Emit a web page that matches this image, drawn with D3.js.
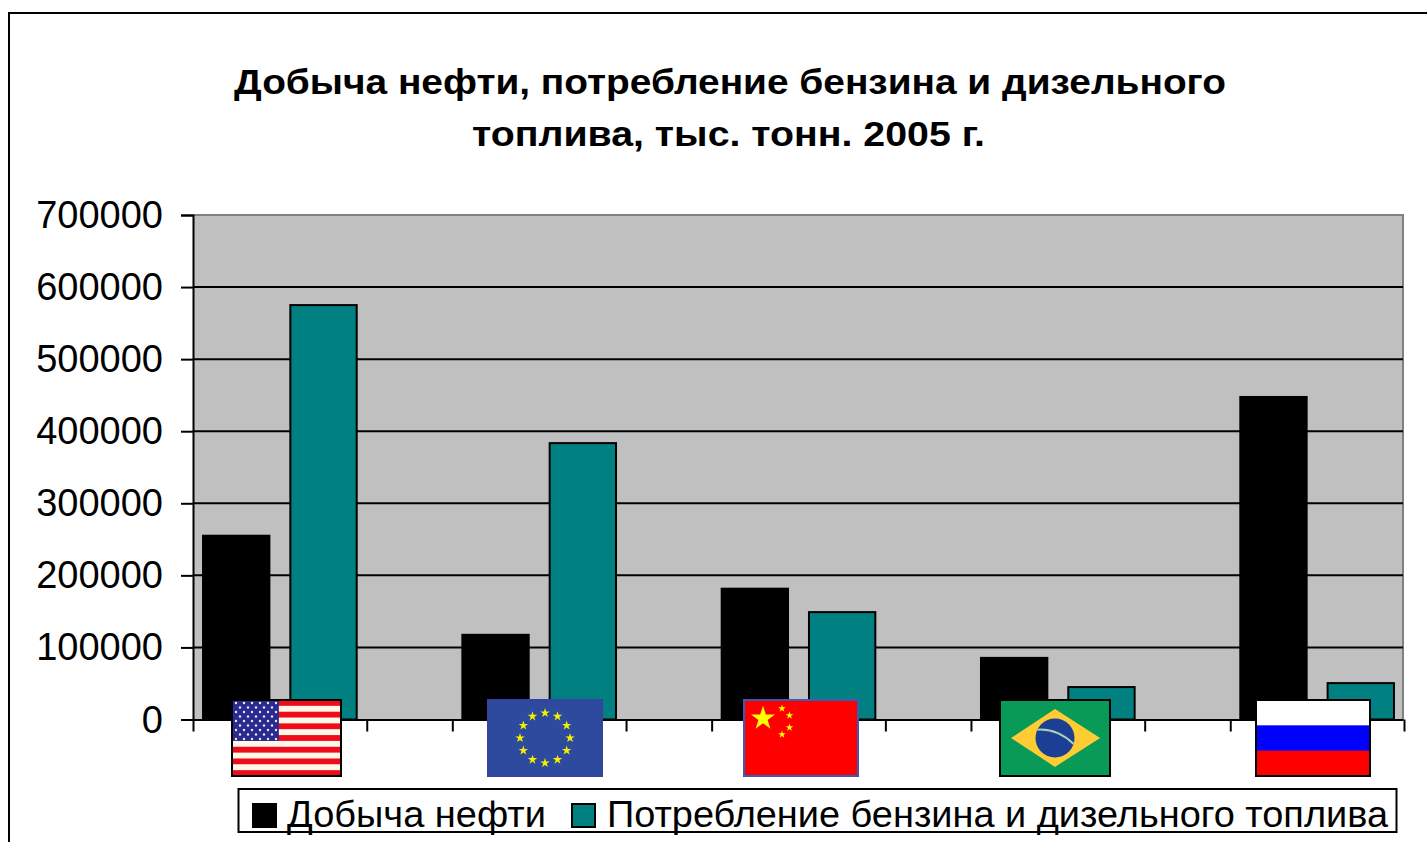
<!DOCTYPE html>
<html>
<head>
<meta charset="utf-8">
<script src="https://cdn.jsdelivr.net/npm/d3@7"></script>
<style>
  html, body { margin: 0; padding: 0; background: #fff; overflow: hidden; }
  text { font-family: "Liberation Sans", Arial, sans-serif; fill: #000; }
</style>
</head>
<body>
<svg class="main"></svg>
<script>
const titleLines = ["Добыча нефти, потребление бензина и дизельного", "топлива, тыс. тонн. 2005 г."];
const countries = ["США", "ЕС", "Китай", "Бразилия", "Россия"];
const seriesNames = ["Добыча нефти", "Потребление бензина и дизельного топлива"];
const oilOutput = [255000, 117500, 181500, 85500, 447500];
const fuelUse = [575000, 383500, 149000, 45000, 50500];
const yTicks = [0, 100000, 200000, 300000, 400000, 500000, 600000, 700000];

const seriesValues = [oilOutput, fuelUse];
const seriesColors = ["#000000", "#008080"];

const width = 1427;
const height = 842;
const svg = d3.select("svg.main").attr("width", width).attr("height", height);

// outer frame, only top and left are inside the picture
svg.append("path")
  .attr("d", `M9,${height}V13H${width}`)
  .style("fill", "none")
  .style("stroke", "#000")
  .style("stroke-width", 2);

svg.selectAll("text.title").data(titleLines).enter().append("text")
  .attr("class", "title")
  .attr("x", (d, i) => i == 0 ? 730 : 728.5)
  .attr("y", (d, i) => 94 + i * 52)
  .attr("text-anchor", "middle")
  .attr("textLength", (d, i) => i == 0 ? 992 : 513)
  .attr("lengthAdjust", "spacingAndGlyphs")
  .style("font-size", "35px")
  .style("font-weight", "bold")
  .text(d => d);

const plot = { left: 193, right: 1403, top: 215, bottom: 719.5 };

const y = d3.scaleLinear().domain([0, 700000]).range([plot.bottom, plot.top]);
const x = d3.scaleBand().domain(countries).range([plot.left, plot.right + 1]).paddingInner(0.33);
const xInner = d3.scaleBand().domain([0, 1]).range([0, x.bandwidth()]).paddingInner(0.24).paddingOuter(0.115);

svg.append("rect")
  .attr("x", plot.left)
  .attr("y", plot.top)
  .attr("width", plot.right - plot.left)
  .attr("height", plot.bottom - plot.top)
  .style("fill", "#c0c0c0");

svg.append("path")
  .attr("d", `M${plot.left},${plot.top}H${plot.right}V${plot.bottom}`)
  .style("fill", "none")
  .style("stroke", "#808080")
  .style("stroke-width", 2);

svg.selectAll("line.grid").data(yTicks.slice(1, -1)).enter().append("line")
  .attr("class", "grid")
  .attr("x1", plot.left)
  .attr("x2", plot.right)
  .attr("y1", d => y(d))
  .attr("y2", d => y(d))
  .style("stroke", "#000")
  .style("stroke-width", 2);

// bars
seriesValues.forEach((values, s) => {
  svg.selectAll("rect.s" + s).data(values).enter().append("rect")
    .attr("class", "s" + s)
    .attr("x", (d, i) => x(countries[i]) + xInner(s))
    .attr("y", d => y(d))
    .attr("width", xInner.bandwidth())
    .attr("height", d => y(0) - y(d))
    .style("fill", seriesColors[s])
    .style("stroke", "#000")
    .style("stroke-width", 2);
});

// axes
const yAxis = svg.append("g")
  .attr("transform", `translate(${plot.left},0)`)
  .call(d3.axisLeft(y).tickValues(yTicks).tickSize(12).tickPadding(18).tickFormat(d3.format("d")));
yAxis.selectAll("text").style("font-size", "38px").attr("dy", "0.33em");
yAxis.selectAll("line").style("stroke", "#000").style("stroke-width", 2);
yAxis.select(".domain").style("stroke", "#000").style("stroke-width", 2);

// ticks sit on the edges of each group, not on its centre
const edges = [plot.left];
countries.forEach(c => edges.push(x(c) + x.bandwidth()));
countries.slice(1).forEach(c => edges.push(x(c)));
const xAxis = svg.append("g")
  .attr("transform", `translate(0,${plot.bottom})`)
  .call(d3.axisBottom(d3.scaleIdentity().domain([plot.left, plot.right]))
    .tickValues(edges).tickSize(12).tickSizeOuter(0).tickFormat(""));
xAxis.selectAll("line").style("stroke", "#000").style("stroke-width", 2);
xAxis.select(".domain").style("stroke", "#000").style("stroke-width", 2);

// flags
const star = (g, cx, cy, size, color) => {
  g.append("path")
    .attr("d", d3.symbol(d3.symbolStar, size)())
    .attr("transform", `translate(${cx},${cy})`)
    .style("fill", color);
};

const drawUSA = (g, w, h) => {
  const rows = d3.range(13);
  g.selectAll("rect.stripe").data(rows).enter().append("rect")
    .attr("class", "stripe")
    .attr("y", d => d * h / 13)
    .attr("width", w)
    .attr("height", h / 13 + 0.5)
    .style("fill", d => d % 2 ? "#fff8e8" : "#ee0c1c");
  g.append("rect").attr("width", w * 0.43).attr("height", h * 7 / 13).style("fill", "#2b2b8f");
  for (let r = 0; r < 9; r++) {
    for (let c = 0; c < (r % 2 ? 5 : 6); c++) {
      g.append("circle")
        .attr("cx", 4 + c * 8 + (r % 2 ? 4 : 0))
        .attr("cy", 3 + r * 4.5)
        .attr("r", 1.2)
        .style("fill", "#e8e8f8");
    }
  }
};

const drawEU = (g, w, h) => {
  g.append("rect").attr("width", w).attr("height", h).style("fill", "#2e4a9e");
  for (let i = 0; i < 12; i++) {
    const a = i * Math.PI / 6;
    star(g, w / 2 + 25 * Math.sin(a), h / 2 - 25 * Math.cos(a), 28, "#f5f000");
  }
};

const drawChina = (g, w, h) => {
  g.append("rect").attr("width", w).attr("height", h).style("fill", "#ff0000");
  star(g, 19, 18.5, 180, "#ffff00");
  star(g, 38, 8.5, 18, "#ffff00");
  star(g, 45.5, 15.5, 18, "#ffff00");
  star(g, 45.5, 27.5, 18, "#ffff00");
  star(g, 38, 34.5, 18, "#ffff00");
};

const drawBrazil = (g, w, h) => {
  g.append("rect").attr("width", w).attr("height", h).style("fill", "#0a9a58");
  g.append("path")
    .attr("d", `M${w * 0.1},${h / 2}L${w / 2},${h * 0.12}L${w * 0.91},${h / 2}L${w / 2},${h * 0.88}Z`)
    .style("fill", "#ffcc33");
  g.append("ellipse")
    .attr("cx", w * 0.5).attr("cy", h / 2)
    .attr("rx", 19.5).attr("ry", 19.5)
    .style("fill", "#1a3f94");
  g.append("path")
    .attr("d", `M${w * 0.34},${h * 0.39}Q${w * 0.52},${h * 0.37} ${w * 0.67},${h * 0.58}`)
    .style("fill", "none")
    .style("stroke", "#a9d2b4")
    .style("stroke-width", 2);
};

const drawRussia = (g, w, h) => {
  ["#ffffff", "#0000ff", "#ff0000"].forEach((c, i) => {
    g.append("rect").attr("y", i * h / 3).attr("width", w).attr("height", h / 3 + 0.3).style("fill", c);
  });
};

const flags = [
  { x: 232, w: 109, draw: drawUSA, border: "#000" },
  { x: 488, w: 114, draw: drawEU, border: "#37439a" },
  { x: 744, w: 114, draw: drawChina, border: "#3a5bb8" },
  { x: 1000, w: 110, draw: drawBrazil, border: "#000" },
  { x: 1256, w: 114, draw: drawRussia, border: "#000" }
];
flags.forEach(f => {
  const g = svg.append("g").attr("transform", `translate(${f.x},700)`);
  f.draw(g, f.w, 76);
  g.append("rect")
    .attr("width", f.w)
    .attr("height", 76)
    .style("fill", "none")
    .style("stroke", f.border)
    .style("stroke-width", 2);
});

// legend
svg.append("rect")
  .attr("x", 238.5)
  .attr("y", 789)
  .attr("width", 1158)
  .attr("height", 43)
  .style("fill", "#fff")
  .style("stroke", "#000")
  .style("stroke-width", 2);

const legendMarks = [253, 572];
const legendText = [287, 607];
const legendLen = [259, 781];
seriesNames.forEach((name, i) => {
  svg.append("rect")
    .attr("x", legendMarks[i])
    .attr("y", 804)
    .attr("width", 23)
    .attr("height", 23)
    .style("fill", seriesColors[i])
    .style("stroke", "#000")
    .style("stroke-width", 2);
  svg.append("text")
    .attr("x", legendText[i])
    .attr("y", 827)
    .attr("textLength", legendLen[i])
    .attr("lengthAdjust", "spacingAndGlyphs")
    .style("font-size", "37px")
    .text(name);
});
</script>
</body>
</html>
